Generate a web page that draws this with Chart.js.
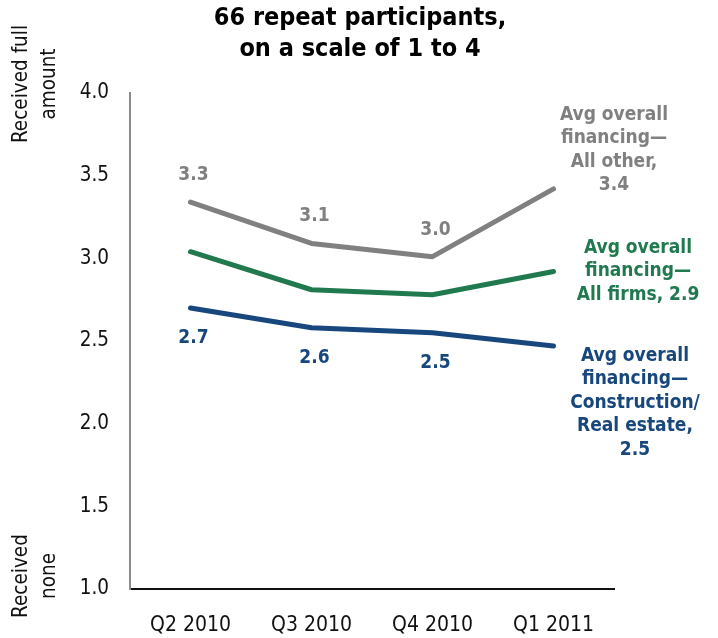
<!DOCTYPE html>
<html>
<head>
<meta charset="utf-8">
<script src="https://cdn.jsdelivr.net/npm/chart.js@4/dist/chart.umd.min.js"></script>
<style>
  html, body { margin: 0; padding: 0; background: #fff; }
  #wrap { width: 718px; height: 638px; position: relative; }
</style>
</head>
<body>
<div id="wrap"><canvas id="chart" width="718" height="638"></canvas></div>
<script>
// chart data
const quarters = ['Q2 2010', 'Q3 2010', 'Q4 2010', 'Q1 2011'];
const allOther = [3.34, 3.09, 3.01, 3.42];
const allFirms = [3.04, 2.81, 2.78, 2.92];
const construction = [2.70, 2.58, 2.55, 2.47];

// labels shown next to points
const allOtherLabels = ['3.3', '3.1', '3.0'];
const constructionLabels = ['2.7', '2.6', '2.5'];

const endLabelOther = ['Avg overall', 'financing\u2014', 'All other,', '3.4'];
const endLabelFirms = ['Avg overall', 'financing\u2014', 'All firms, 2.9'];
const endLabelConstr = ['Avg overall', 'financing\u2014', 'Construction/', 'Real estate,', '2.5'];

const GRAY = '#808080';
const GREEN = '#217a4f';
const BLUE = '#17477d';
const FONT = '"DejaVu Sans Condensed", "DejaVu Sans", sans-serif';

// draws title, axis captions and the value labels
const annotate = {
  id: 'annotate',
  afterDraw(chart) {
    const ctx = chart.ctx;
    const x = chart.scales.x;
    const y = chart.scales.y;
    ctx.save();
    ctx.textAlign = 'center';
    ctx.textBaseline = 'middle';

    // title
    ctx.fillStyle = '#000';
    ctx.font = 'bold 25px ' + FONT;
    ctx.fillText('66 repeat participants,', 360, 18);
    ctx.fillText('on a scale of 1 to 4', 360, 49);

    // y axis captions
    ctx.font = '20.5px ' + FONT;
    ctx.fillStyle = '#111';
    function vertical(lines, cy) {
      ctx.save();
      ctx.translate(0, cy);
      ctx.rotate(-Math.PI / 2);
      ctx.fillText(lines[0], 0, 22);
      ctx.fillText(lines[1], 0, 50);
      ctx.restore();
    }
    vertical(['Received full', 'amount'], 84);
    vertical(['Received', 'none'], 576);

    // point labels
    ctx.font = 'bold 19px ' + FONT;
    ctx.fillStyle = GRAY;
    allOtherLabels.forEach((t, i) => {
      ctx.fillText(t, x.getPixelForValue(i) + 3, y.getPixelForValue(allOther[i]) - 27);
    });
    ctx.fillStyle = BLUE;
    constructionLabels.forEach((t, i) => {
      ctx.fillText(t, x.getPixelForValue(i) + 3, y.getPixelForValue(construction[i]) + 30);
    });

    // series labels at the right
    function block(lines, cx, top, color) {
      ctx.fillStyle = color;
      lines.forEach((t, i) => ctx.fillText(t, cx, top + i * 23.5));
    }
    block(endLabelOther, 614, 115, GRAY);
    block(endLabelFirms, 638, 248, GREEN);
    block(endLabelConstr, 635, 356, BLUE);

    ctx.restore();
  }
};

function line(label, data, color) {
  return {
    label: label,
    data: data,
    borderColor: color,
    backgroundColor: color,
    borderWidth: 5,
    pointRadius: 0,
    borderCapStyle: 'round',
    borderJoinStyle: 'round',
    tension: 0
  };
}

new Chart(document.getElementById('chart').getContext('2d'), {
  type: 'line',
  data: {
    labels: quarters,
    datasets: [
      line('All other', allOther, GRAY),
      line('All firms', allFirms, GREEN),
      line('Construction/Real estate', construction, BLUE)
    ]
  },
  options: {
    responsive: false,
    animation: false,
    layout: { padding: { left: 0, right: 104, top: 93, bottom: 0 } },
    plugins: { legend: { display: false }, tooltip: { enabled: false } },
    scales: {
      x: {
        offset: true,
        grid: { display: false, drawTicks: false },
        border: { display: true, color: '#111', width: 2 },
        ticks: { color: '#111', font: { family: FONT, size: 21 }, padding: 24 },
        afterFit(scale) { scale.height = 49; }
      },
      y: {
        min: 1,
        max: 4,
        grid: { display: false, drawTicks: false },
        border: { display: true, color: '#8c8c8c', width: 2 },
        ticks: {
          stepSize: 0.5,
          color: '#111',
          font: { family: FONT, size: 20.5 },
          padding: 21,
          callback: v => v.toFixed(1)
        },
        afterFit(scale) { scale.width = 130; }
      }
    }
  },
  plugins: [annotate]
});
</script>
</body>
</html>
